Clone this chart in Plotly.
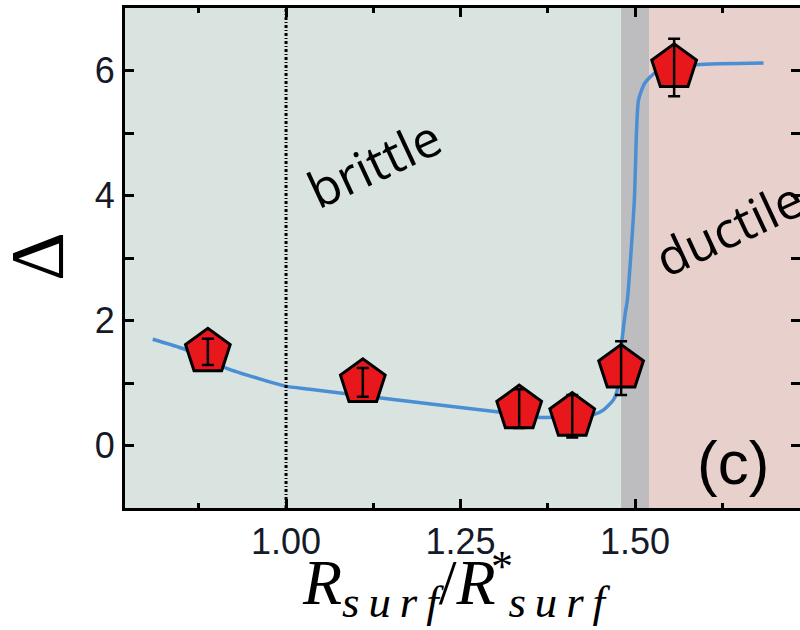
import plotly.graph_objects as go

# data points (ratio, Delta, error)
pts_x = [0.888, 1.110, 1.334, 1.410, 1.480, 1.556]
pts_y = [1.50, 1.01, 0.59, 0.47, 1.24, 6.05]
pts_err = [0.21, 0.23, 0.31, 0.34, 0.43, 0.46]

# fitted curve
curve_x = [0.809, 0.855, 0.915, 0.967, 0.999, 1.034, 1.139, 1.302, 1.366, 1.440,
           1.455, 1.469, 1.474, 1.481, 1.486, 1.489, 1.499, 1.502, 1.505, 1.514,
           1.531, 1.588, 1.684]
curve_y = [1.70, 1.54, 1.235, 1.05, 0.95, 0.90, 0.755, 0.54, 0.45, 0.49,
           0.57, 0.73, 0.86, 1.66, 2.12, 2.33, 3.93, 5.0, 5.53, 5.8,
           5.98, 6.09, 6.12]

xticks = [1.00, 1.25, 1.50]
xticktext = ["1.00", "1.25", "1.50"]
yticks = [0, 2, 4, 6]
yticktext = ["0", "2", "4", "6"]

x_range = [0.7693, 1.7363]
y_range = [-1, 7]
brittle_end = 1.48
ductile_start = 1.52
reference_x = 1.0

fig = go.Figure()

fig.add_trace(go.Scatter(x=curve_x, y=curve_y, mode="lines",
                         line=dict(color="#4a8ed4", width=3.5, shape="spline", smoothing=0.6),
                         hoverinfo="skip", showlegend=False))

fig.add_trace(go.Scatter(x=pts_x, y=pts_y, mode="markers",
                         marker=dict(symbol="pentagon", size=47, color="#e8171c",
                                     line=dict(color="black", width=3)),
                         showlegend=False))

fig.add_trace(go.Scatter(x=pts_x, y=pts_y, mode="markers",
                         marker=dict(size=1, color="rgba(0,0,0,0)"),
                         error_y=dict(type="data", array=pts_err, visible=True,
                                      color="black", thickness=2.5, width=6),
                         showlegend=False))

fig.add_shape(type="rect", xref="x", yref="paper", x0=brittle_end, x1=ductile_start,
              y0=0, y1=1, fillcolor="#bdbdbf", line_width=0, layer="below")
fig.add_shape(type="rect", xref="x", yref="paper", x0=ductile_start, x1=x_range[1],
              y0=0, y1=1, fillcolor="#e8d0cc", line_width=0, layer="below")
fig.add_shape(type="line", xref="x", yref="paper", x0=reference_x, x1=reference_x,
              y0=0, y1=1, line=dict(color="black", width=3, dash="3px,2px,1px,2px"),
              layer="above")

tickfont = dict(family="Liberation Sans, Arial", size=36, color="#161a28")

fig.update_xaxes(range=x_range, tickvals=xticks, ticktext=xticktext, automargin=False,
                 showgrid=False, zeroline=False, showline=True, linewidth=3,
                 linecolor="black", mirror="ticks", ticks="inside", ticklen=9,
                 tickwidth=3, tickcolor="black", tickfont=tickfont,
                 minor=dict(tickvals=[0.875, 1.125, 1.375, 1.625], ticks="inside",
                            ticklen=5, tickwidth=3, tickcolor="black", showgrid=False))
fig.update_yaxes(range=y_range, tickvals=yticks, ticktext=yticktext, automargin=False,
                 showgrid=False, zeroline=False, showline=True, linewidth=3,
                 linecolor="black", mirror="ticks", ticks="inside", ticklen=9,
                 tickwidth=3, tickcolor="black", tickfont=tickfont,
                 minor=dict(tickvals=[-1, 1, 3, 5, 7], ticks="inside",
                            ticklen=9, tickwidth=3, tickcolor="black", showgrid=False))


def px_annot(text, px, py, size, family, angle=0):
    fig.add_annotation(text=text, xref="paper", yref="paper",
                       x=(px - 125) / 675, y=(508 - py) / 500, showarrow=False,
                       xanchor="center", yanchor="middle", textangle=angle,
                       font=dict(family=family, size=size, color="black"))


px_annot("brittle", 374, 163, 50, "Open Sans", -25)
px_annot("ductile", 729, 228, 50, "Open Sans", -25)
px_annot("(c)", 733, 462, 62, "Liberation Sans Narrow, Liberation Sans")
px_annot("Δ", 37, 257, 76, "Liberation Serif", -90)

# x-axis title R_surf / R*_surf
serif = "Liberation Serif"
ts = "\u2009"
sub = "<sub><i>" + ts.join("surf") + "</i></sub>"
title = "<i>R</i>" + sub + "/<i>R</i>" + ts + sub
px_annot(title, 456, 587, 64, serif)
px_annot("*", 502, 567, 44, serif)

fig.update_layout(width=800, height=630, margin=dict(l=125, r=0, t=8, b=122),
                  plot_bgcolor="#d9e3df", paper_bgcolor="white")

fig.write_html("out.html", config={"displayModeBar": False},
               post_script="document.body.style.margin='0';document.body.style.overflow='hidden';")
